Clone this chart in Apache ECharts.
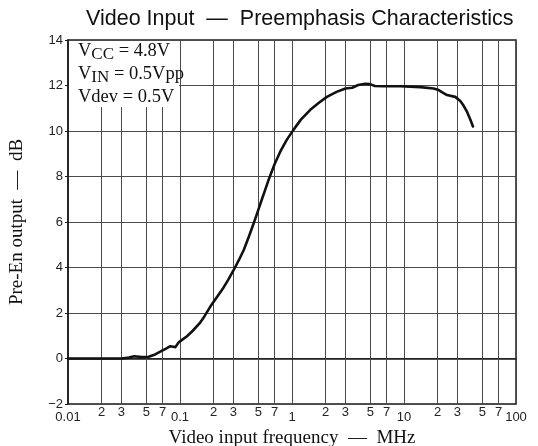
<!DOCTYPE html>
<html>
<head>
<meta charset="utf-8">
<script src="https://cdn.jsdelivr.net/npm/echarts@6/dist/echarts.min.js"></script>
<style>html,body{margin:0;padding:0;background:#fff}#c{width:538px;height:446px}</style>
</head>
<body>
<div id="c"></div>
<script>
// Frequency (MHz) and Pre-En output (dB)
var freqMHz = [0.01, 0.02, 0.03, 0.035, 0.039, 0.0457, 0.0525, 0.06, 0.0667, 0.075, 0.082, 0.087, 0.091, 0.097, 0.105, 0.1155, 0.13, 0.15, 0.165, 0.186, 0.21, 0.24, 0.27, 0.301, 0.335, 0.37, 0.41, 0.45, 0.49, 0.53, 0.575, 0.618, 0.7, 0.787, 0.9, 1.03, 1.2, 1.456, 1.75, 2.05, 2.5, 3.0, 3.45, 3.9, 4.5, 4.95, 5.5, 6.5, 9.27, 14, 18.4, 20.4, 22, 24.2, 28.7, 31.8, 34, 36.5, 39, 41.3];
var outputDB = [0, 0, 0, 0.04, 0.1, 0.06, 0.08, 0.18, 0.3, 0.43, 0.54, 0.52, 0.5, 0.7, 0.83, 0.98, 1.22, 1.55, 1.85, 2.27, 2.65, 3.05, 3.47, 3.88, 4.32, 4.76, 5.33, 5.88, 6.4, 6.9, 7.4, 7.85, 8.55, 9.1, 9.62, 10.05, 10.5, 10.93, 11.25, 11.5, 11.72, 11.87, 11.9, 12.02, 12.08, 12.06, 11.98, 11.97, 11.97, 11.93, 11.87, 11.8, 11.7, 11.58, 11.5, 11.32, 11.12, 10.85, 10.52, 10.2];

// Axis ticks
var decadeTicks = [0.01, 0.1, 1, 10, 100];
var decadeLabels = ['0.01', '0.1', '1', '10', '100'];
var minorTicks = [0.02, 0.03, 0.05, 0.07, 0.2, 0.3, 0.5, 0.7, 2, 3, 5, 7, 20, 30, 50, 70];
var minorLabels = ['2', '3', '5', '7', '2', '3', '5', '7', '2', '3', '5', '7', '2', '3', '5', '7'];
var yTicks = [-2, 0, 2, 4, 6, 8, 10, 12, 14];

var titleText = 'Video Input  \u2014  Preemphasis Characteristics';
var xName = 'Video input frequency  \u2014  MHz';
var yName = 'Pre-En output  \u2014  dB';

var curve = freqMHz.map(function (f, i) { return [f, outputDB[i]]; });
var gridColor = '#4a4a4a';

var chart = echarts.init(document.getElementById('c'), null, {renderer: 'canvas'});
chart.setOption({
  animation: false,
  backgroundColor: '#fff',
  title: {
    text: titleText,
    left: 86, top: 8, padding: 0,
    textStyle: {fontFamily: 'Liberation Sans', fontWeight: 'normal', fontSize: 21.5, color: '#111'}
  },
  grid: {left: 68, right: 22, top: 40, bottom: 42, show: true, borderColor: '#1a1a1a', borderWidth: 1.5, backgroundColor: 'transparent', outerBoundsMode: 'none', containLabel: false},
  xAxis: {
    type: 'log', logBase: 10, min: decadeTicks[0], max: decadeTicks[decadeTicks.length - 1],
    name: xName, nameLocation: 'middle', nameGap: 22,
    nameTextStyle: {fontFamily: 'Liberation Serif', fontSize: 19, color: '#111'},
    axisLine: {show: true, lineStyle: {color: '#1a1a1a', width: 1.5}},
    axisTick: {show: false},
    splitLine: {show: true, lineStyle: {color: gridColor, width: 1}},
    axisLabel: {
      margin: 7, color: '#222', fontFamily: 'Liberation Sans', fontSize: 13,
      formatter: function (v) {
        for (var i = 0; i < decadeTicks.length; i++) {
          if (Math.abs(Math.log10(v) - Math.log10(decadeTicks[i])) < 1e-6) return decadeLabels[i];
        }
        return '';
      }
    }
  },
  yAxis: {
    type: 'value', min: yTicks[0], max: yTicks[yTicks.length - 1], interval: 2,
    axisLine: {show: true, lineStyle: {color: '#1a1a1a', width: 1.5}},
    axisTick: {show: true, inside: false, length: 3, lineStyle: {color: '#1a1a1a'}},
    splitLine: {show: true, lineStyle: {color: gridColor, width: 1}},
    axisLabel: {margin: 5, color: '#222', fontFamily: 'Liberation Sans', fontSize: 13,
      formatter: function (v) { return String(v).replace('-', '\u2212'); }}
  },
  series: [
    {
      type: 'line', data: [], z: 1, silent: true,
      markLine: {
        silent: true, symbol: ['none', 'none'], animation: false,
        lineStyle: {color: gridColor, width: 1, type: 'solid'},
        label: {show: true, position: 'start', distance: 2, color: '#222', fontFamily: 'Liberation Sans', fontSize: 13,
          formatter: function (p) { return minorLabels[p.dataIndex]; }},
        emphasis: {disabled: true},
        data: minorTicks.map(function (v) { return {xAxis: v}; })
      }
    },
    {
      type: 'line', data: curve, z: 5, showSymbol: false, smooth: false,
      lineStyle: {color: '#111', width: 2.6, join: 'round', cap: 'round'}
    }
  ],
  graphic: [
    {type: 'rect', z: 50, shape: {x: 69, y: 41, width: 110, height: 66}, style: {fill: '#fff'}},
    {type: 'text', z: 51, x: 78, y: 40, style: {
      text: '{v|V}{s|CC}{v| = 4.8V}\n{v|V}{s|IN}{v| = 0.5Vpp}\n{v|Vdev = 0.5V}',
      fill: '#111', font: '18.5px "Liberation Serif"',
      rich: {
        v: {fontFamily: 'Liberation Serif', fontSize: 18.5, lineHeight: 23, fill: '#111'},
        s: {fontFamily: 'Liberation Serif', fontSize: 17, lineHeight: 14, verticalAlign: 'bottom', fill: '#111'}
      }
    }},
    {type: 'text', z: 51, x: 17, y: 222, rotation: Math.PI / 2, style: {
      text: yName, fill: '#111', font: '19px "Liberation Serif"', textAlign: 'center', textVerticalAlign: 'middle'
    }}
  ]
});
</script>
</body>
</html>
